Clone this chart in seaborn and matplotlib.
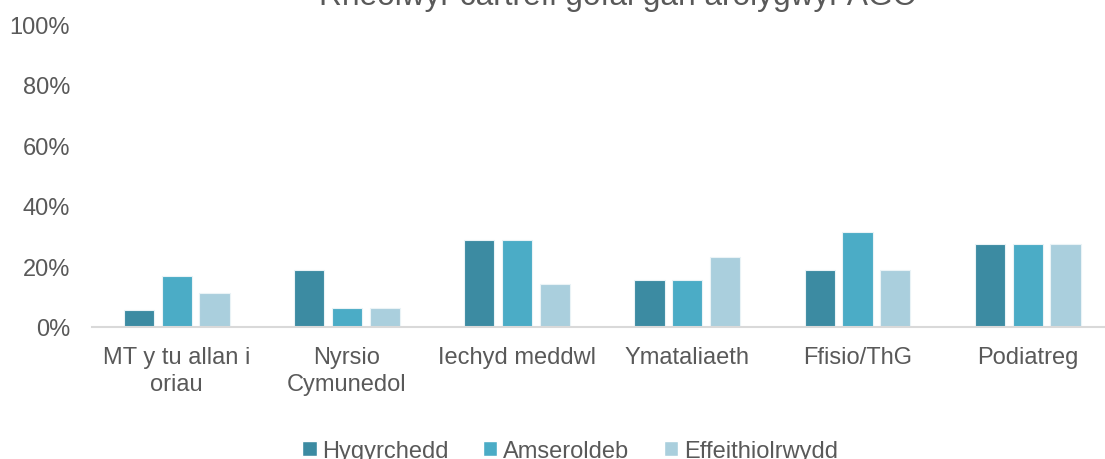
import matplotlib
matplotlib.use("Agg")
import matplotlib.pyplot as plt
import seaborn as sns
import pandas as pd
from matplotlib.ticker import PercentFormatter
from matplotlib.patches import Patch

categories = ["MT y tu allan i\noriau", "Nyrsio\nCymunedol", "Iechyd meddwl",
              "Ymataliaeth", "Ffisio/ThG", "Podiatreg"]
series = ["Hygyrchedd", "Amseroldeb", "Effeithiolrwydd"]
hygyrchedd = [5.6, 18.75, 28.6, 15.4, 18.75, 27.3]
amseroldeb = [16.7, 6.25, 28.6, 15.4, 31.25, 27.3]
effeithiolrwydd = [11.1, 6.25, 14.3, 23.1, 18.75, 27.3]
colors = ["#3C8BA2", "#4BACC6", "#AACFDD"]
title = "Rheolwyr cartrefi gofal gan arolygwyr AGC"

rows = []
for s, vals in zip(series, [hygyrchedd, amseroldeb, effeithiolrwydd]):
    for c, v in zip(categories, vals):
        rows.append({"cat": c, "series": s, "val": v})
df = pd.DataFrame(rows)

sns.set_theme(style="white")
plt.rcParams['font.family'] = ['Liberation Sans', 'DejaVu Sans']
txt = "#595959"
fs = 17

fig = plt.figure(figsize=(11.05, 4.6), dpi=100)
ax = fig.add_axes([91.6/1105, 1-328/460, (1112.8-91.6)/1105, (328-25)/460])
sns.barplot(data=df, x="cat", y="val", hue="series", palette=colors, saturation=1,
            width=0.665, gap=0.2, ax=ax, legend=False, linewidth=0.8, edgecolor="#EAF3F6")
ax.set_ylim(0, 100)
ax.set_xlim(-0.5, 5.5)
ax.set_yticks([0, 20, 40, 60, 80, 100])
ax.yaxis.set_major_formatter(PercentFormatter(decimals=0))
ax.set_xlabel("")
ax.set_ylabel("")
for sp in ["top", "right", "left"]:
    ax.spines[sp].set_visible(False)
ax.spines["bottom"].set_color("#D9D9D9")
ax.spines["bottom"].set_linewidth(1.5)
ax.tick_params(axis="both", length=0, labelsize=fs, colors=txt)
ax.tick_params(axis="y", pad=15.5)
ax.tick_params(axis="x", pad=14)
for lab in ax.get_xticklabels():
    lab.set_linespacing(1.25)

fig.text(617/1105, 1-5/460, title, ha="center", va="baseline", fontsize=22.8, color=txt)

handles = [Patch(facecolor=c, label=s) for c, s in zip(colors, series)]
fig.legend(handles=handles, loc="center", bbox_to_anchor=(570/1105, 1-452/460), ncol=3,
           frameon=False, fontsize=fs, labelcolor=txt, handlelength=0.6, handleheight=0.6,
           handletextpad=0.25, columnspacing=1.45)

fig.savefig("out.png", dpi=100)
